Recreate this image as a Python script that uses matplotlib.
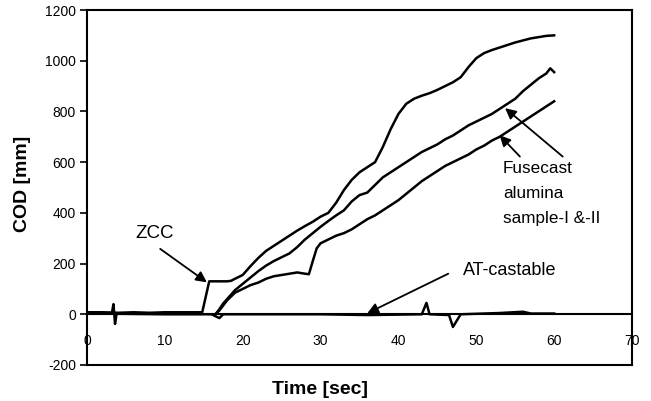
import matplotlib
matplotlib.use("Agg")
import matplotlib.pyplot as plt

plt.rcParams['font.family'] = ['Liberation Sans', 'DejaVu Sans']

# ZCC
zcc_t = [0, 2, 4, 6, 8, 10, 12, 14, 14.8, 15.7, 16, 17, 18, 18.5, 19, 20, 21, 22, 23, 24, 25, 26, 27, 28, 29,
         30, 31, 32, 33, 34, 35, 36, 37, 38, 39, 40, 41, 42, 43, 44, 45, 46, 47, 48, 49, 50,
         51, 52, 53, 54, 55, 56, 57, 58, 59, 60]
zcc_v = [8, 8, 6, 8, 6, 8, 8, 8, 8, 130, 130, 130, 130, 132, 140, 155, 190, 222, 250, 270, 290, 310, 330, 348, 365,
         385, 400, 440, 490, 530, 560, 580, 600, 660, 730, 790, 830, 850, 862, 872, 885, 900, 915, 935, 975, 1010,
         1030, 1042, 1052, 1062, 1072, 1080, 1088, 1093, 1098, 1100]

# Fusecast alumina sample-I
s1_t = [16.5, 17, 17.5, 18, 19, 20, 21, 22, 23, 24, 25, 26, 27, 28, 29, 30, 31, 32, 33, 34, 35, 36, 37, 38, 39,
        40, 41, 42, 43, 44, 45, 46, 47, 48, 49, 50, 51, 52, 53, 54, 55, 56, 57, 58, 59, 59.5, 60]
s1_v = [0, 20, 43, 60, 95, 120, 145, 170, 192, 210, 225, 240, 265, 295, 320, 345, 368, 390, 410, 445, 470, 480, 510,
        540, 560, 580, 600, 620, 640, 655, 670, 690, 705, 725, 745, 760, 775, 790, 810, 830, 850, 880, 905, 930,
        950, 970, 955]

# Fusecast alumina sample-II
s2_t = [16.5, 17, 18, 19, 20, 21, 22, 23, 24, 25, 26, 27, 28, 28.5, 29, 29.5, 30, 31, 32, 33, 34, 35, 36, 37, 38,
        39, 40, 41, 42, 43, 44, 45, 46, 47, 48, 49, 50, 51, 52, 53, 54, 55, 56, 57, 58, 59, 60]
s2_v = [0, 15, 55, 85, 100, 115, 125, 140, 150, 155, 160, 165, 160, 158, 210, 260, 280, 295, 310, 320, 335, 355,
        375, 390, 410, 430, 450, 475, 500, 525, 545, 565, 585, 600, 615, 630, 650, 665, 685, 700, 720, 740, 760,
        780, 800, 820, 840]

# AT-castable
at_t = [0, 3.2, 3.4, 3.6, 3.8, 10, 16, 17, 17.5, 30, 36, 43, 43.6, 44, 46.5, 47, 48, 53, 56, 57, 60]
at_v = [5, 5, 40, -38, 2, 0, 0, -15, 0, 0, -3, 0, 45, 0, -3, -50, 0, 5, 10, 3, 3]

x_ticks = [0, 10, 20, 30, 40, 50, 60, 70]
y_ticks = [-200, 0, 200, 400, 600, 800, 1000, 1200]

fig = plt.figure(figsize=(6.51, 4.01), dpi=100)
ax = fig.add_axes([87/651, 36/401, 545/651, 355/401])

lw = 1.8
ax.plot(zcc_t, zcc_v, color='black', lw=lw)
ax.plot(s1_t, s1_v, color='black', lw=lw)
ax.plot(s2_t, s2_v, color='black', lw=lw)
ax.plot(at_t, at_v, color='black', lw=lw)

ax.set_xlim(0, 70)
ax.set_ylim(-200, 1200)
ax.set_xticks(x_ticks)
ax.set_yticks(y_ticks)
ax.set_xticklabels([str(v) for v in x_ticks], fontsize=10)
ax.set_yticklabels([str(v) for v in y_ticks], fontsize=10)

ax.spines['bottom'].set_position(('data', 0))
for s in ax.spines.values():
    s.set_linewidth(1.5)
ax.plot([0, 1], [0, 0], transform=ax.transAxes, color='black', lw=1.5, clip_on=False)
ax.tick_params(axis='x', length=0, pad=14)
ax.tick_params(axis='y', direction='out', length=5, width=1.2, pad=3)

ax.set_xlabel('Time [sec]', fontsize=14, fontweight='bold')
ax.set_ylabel('COD [mm]', fontsize=14, fontweight='bold')
ax.xaxis.set_label_coords(0.428, -0.045)
ax.yaxis.set_label_coords(-0.103, 0.51)

arrow = dict(arrowstyle='-|>', color='black', lw=1.3, mutation_scale=16, shrinkA=0, shrinkB=0)
ax.text(8.7, 318, 'ZCC', fontsize=13.5, ha='center', va='center')
ax.annotate('', xy=(15.4, 126), xytext=(9.4, 258), arrowprops=arrow)
ax.text(54.3, 172, 'AT-castable', fontsize=13, ha='center', va='center')
ax.annotate('', xy=(36.0, 4), xytext=(46.4, 160), arrowprops=arrow)
ax.text(53.4, 576, 'Fusecast', fontsize=12.3, ha='left', va='center')
ax.text(53.4, 477, 'alumina', fontsize=12.3, ha='left', va='center')
ax.text(53.4, 378, 'sample-I &-II', fontsize=12.3, ha='left', va='center')
ax.annotate('', xy=(53.0, 706), xytext=(55.6, 622), arrowprops=arrow)
ax.annotate('', xy=(53.7, 813), xytext=(61.1, 622), arrowprops=arrow)

fig.savefig('out.png', dpi=100)
